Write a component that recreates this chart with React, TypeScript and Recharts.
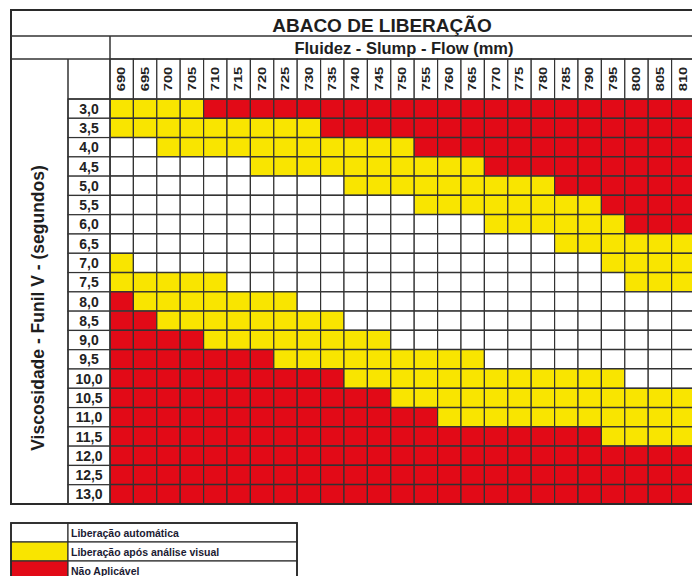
import { BarChart, Bar, XAxis, YAxis, Cell } from "recharts"

const flowValues = [
  690, 695, 700, 705, 710, 715, 720, 725, 730, 735, 740, 745, 750,
  755, 760, 765, 770, 775, 780, 785, 790, 795, 800, 805, 810,
]

const viscosityLabels = [
  "3,0", "3,5", "4,0", "4,5", "5,0", "5,5", "6,0", "6,5", "7,0", "7,5", "8,0",
  "8,5", "9,0", "9,5", "10,0", "10,5", "11,0", "11,5", "12,0", "12,5", "13,0",
]

// one string per viscosity row, one letter per flow column (groups of 5)
// A = liberação automática, V = após análise visual, N = não aplicável
const releaseRows = [
  "VVVVN NNNNN NNNNN NNNNN NNNNN",
  "VVVVV VVVVN NNNNN NNNNN NNNNN",
  "AAVVV VVVVV VVVNN NNNNN NNNNN",
  "AAAAA AVVVV VVVVV VNNNN NNNNN",
  "AAAAA AAAAA VVVVV VVVVN NNNNN",
  "AAAAA AAAAA AAAVV VVVVV VNNNN",
  "AAAAA AAAAA AAAAA AVVVV VVNNN",
  "AAAAA AAAAA AAAAA AAAAV VVVVV",
  "VAAAA AAAAA AAAAA AAAAA AVVVV",
  "VVVVV AAAAA AAAAA AAAAA AAVVV",
  "NVVVV VVVAA AAAAA AAAAA AAAAA",
  "NNVVV VVVVV AAAAA AAAAA AAAAA",
  "NNNNV VVVVV VVAAA AAAAA AAAAA",
  "NNNNN NNVVV VVVVV VAAAA AAAAA",
  "NNNNN NNNNN VVVVV VVVVV VVAAA",
  "NNNNN NNNNN NNVVV VVVVV VVVVV",
  "NNNNN NNNNN NNNNV VVVVV VVVVV",
  "NNNNN NNNNN NNNNN NNNNN NVVVV",
  "NNNNN NNNNN NNNNN NNNNN NNNNN",
  "NNNNN NNNNN NNNNN NNNNN NNNNN",
  "NNNNN NNNNN NNNNN NNNNN NNNNN",
]

const legendCodes = ["A", "V", "N"]
const legendLabels = ["Liberação automática", "Liberação após análise visual", "Não Aplicável"]

const statusColor: Record<string, string> = { A: "#ffffff", V: "#f9e500", N: "#e20a17" }

const FONT = '"Liberation Sans", Arial, sans-serif'
const LINE = "#333"

// layout
const CHART_W = 700
const CHART_H = 576
const MARGIN = { top: 59, right: 5, bottom: 72, left: 68 }
const X_AXIS_H = 40
const Y_AXIS_W = 42
const PLOT_LEFT = MARGIN.left + Y_AXIS_W
const PLOT_TOP = MARGIN.top + X_AXIS_H
const PLOT_BOTTOM = CHART_H - MARGIN.bottom
const CELL_W = (CHART_W - MARGIN.right - PLOT_LEFT) / flowValues.length
const ROW_H = (PLOT_BOTTOM - PLOT_TOP) / viscosityLabels.length

const data = viscosityLabels.map((label, r) => {
  const codes = releaseRows[r].replace(/ /g, "")
  const row: Record<string, string | number> = { label }
  flowValues.forEach((_, c) => {
    row[`c${c}`] = 1
    row[`s${c}`] = codes[c]
  })
  return row
})

function FlowTick({ x, payload }: any) {
  const i = Math.floor(payload.value)
  const cy = MARGIN.top + X_AXIS_H / 2
  return (
    <g>
      <rect x={x - CELL_W / 2} y={MARGIN.top} width={CELL_W} height={X_AXIS_H} fill="#fff" stroke={LINE} strokeWidth={1.2} />
      <text
        transform={`translate(${x},${cy}) rotate(-90) scale(1.4,1)`}
        textAnchor="middle"
        dominantBaseline="central"
        fontSize={10.5}
        fontWeight={700}
        fontFamily={FONT}
        fill="#222"
      >
        {flowValues[i]}
      </text>
    </g>
  )
}

function ViscosityTick({ y, payload }: any) {
  return (
    <g>
      <rect x={MARGIN.left} y={y - ROW_H / 2} width={Y_AXIS_W} height={ROW_H} fill="#fff" stroke={LINE} strokeWidth={1.2} />
      <text
        x={MARGIN.left + Y_AXIS_W / 2}
        y={y}
        textAnchor="middle"
        dominantBaseline="central"
        fontSize={14}
        fontWeight={700}
        fontFamily={FONT}
        fill="#222"
      >
        {payload.value}
      </text>
    </g>
  )
}

function Frame() {
  const right = CHART_W + 10
  const legendTop = 523
  const legendRowH = 19
  return (
    <svg width={692} height={576} style={{ position: "absolute", left: 0, top: 0, pointerEvents: "none" }}>
      <rect x={11} y={10} width={right - 11} height={PLOT_BOTTOM - 10} fill="none" stroke="#2a2a2a" strokeWidth={2} />
      <line x1={11} y1={36} x2={right} y2={36} stroke={LINE} strokeWidth={1.5} />
      <line x1={11} y1={MARGIN.top} x2={right} y2={MARGIN.top} stroke={LINE} strokeWidth={1.5} />
      <line x1={PLOT_LEFT} y1={36} x2={PLOT_LEFT} y2={PLOT_BOTTOM} stroke={LINE} strokeWidth={1.5} />
      <line x1={MARGIN.left} y1={MARGIN.top} x2={MARGIN.left} y2={PLOT_BOTTOM} stroke={LINE} strokeWidth={1.5} />
      <line x1={MARGIN.left} y1={PLOT_TOP} x2={right} y2={PLOT_TOP} stroke={LINE} strokeWidth={1.5} />

      <text x={382} y={32} textAnchor="middle" fontSize={19} fontWeight={700} fontFamily={FONT} fill="#1e1e1e">
        ABACO DE LIBERAÇÃO
      </text>
      <text x={404} y={54} textAnchor="middle" fontSize={16.5} fontWeight={700} fontFamily={FONT} fill="#1e1e1e">
        Fluidez - Slump - Flow (mm)
      </text>
      <text
        transform={`translate(44,308) rotate(-90)`}
        textAnchor="middle"
        fontSize={17.5}
        fontWeight={700}
        fontFamily={FONT}
        fill="#1e1e1e"
      >
        Viscosidade - Funil V - (segundos)
      </text>

      {legendCodes.map((code, i) => (
        <g key={code}>
          <rect x={11} y={legendTop + i * legendRowH} width={57} height={legendRowH} fill={statusColor[code]} stroke={LINE} strokeWidth={1.2} />
          <rect x={68} y={legendTop + i * legendRowH} width={229} height={legendRowH} fill="#fff" stroke={LINE} strokeWidth={1.2} />
          <text
            x={71}
            y={legendTop + i * legendRowH + legendRowH / 2}
            dominantBaseline="central"
            fontSize={10.5}
            fontWeight={700}
            fontFamily={FONT}
            fill="#1b1b33"
          >
            {legendLabels[i]}
          </text>
        </g>
      ))}
      <rect x={11} y={legendTop} width={286} height={legendRowH * 3} fill="none" stroke="#2a2a2a" strokeWidth={1.8} />
    </svg>
  )
}

export default function App() {
  return (
    <div style={{ position: "absolute", left: 0, top: 0, width: 692, height: 576, overflow: "hidden", background: "#fff" }}>
      <div style={{ position: "absolute", left: 0, top: 0 }}>
        <BarChart
          width={CHART_W}
          height={CHART_H}
          data={data}
          layout="vertical"
          margin={MARGIN}
          barCategoryGap={0}
          barGap={0}
        >
          <XAxis
            type="number"
            orientation="top"
            domain={[0, flowValues.length]}
            ticks={flowValues.map((_, i) => i + 0.5)}
            interval={0}
            height={X_AXIS_H}
            tick={<FlowTick />}
            tickLine={false}
            axisLine={false}
          />
          <YAxis
            type="category"
            dataKey="label"
            width={Y_AXIS_W}
            interval={0}
            tick={<ViscosityTick />}
            tickLine={false}
            axisLine={false}
          />
          {flowValues.map((f, c) => (
            <Bar key={f} dataKey={`c${c}`} stackId="grid" isAnimationActive={false} stroke={LINE} strokeWidth={1.2}>
              {data.map((row, r) => (
                <Cell key={r} fill={statusColor[row[`s${c}`] as string]} />
              ))}
            </Bar>
          ))}
        </BarChart>
      </div>
      <Frame />
    </div>
  )
}
